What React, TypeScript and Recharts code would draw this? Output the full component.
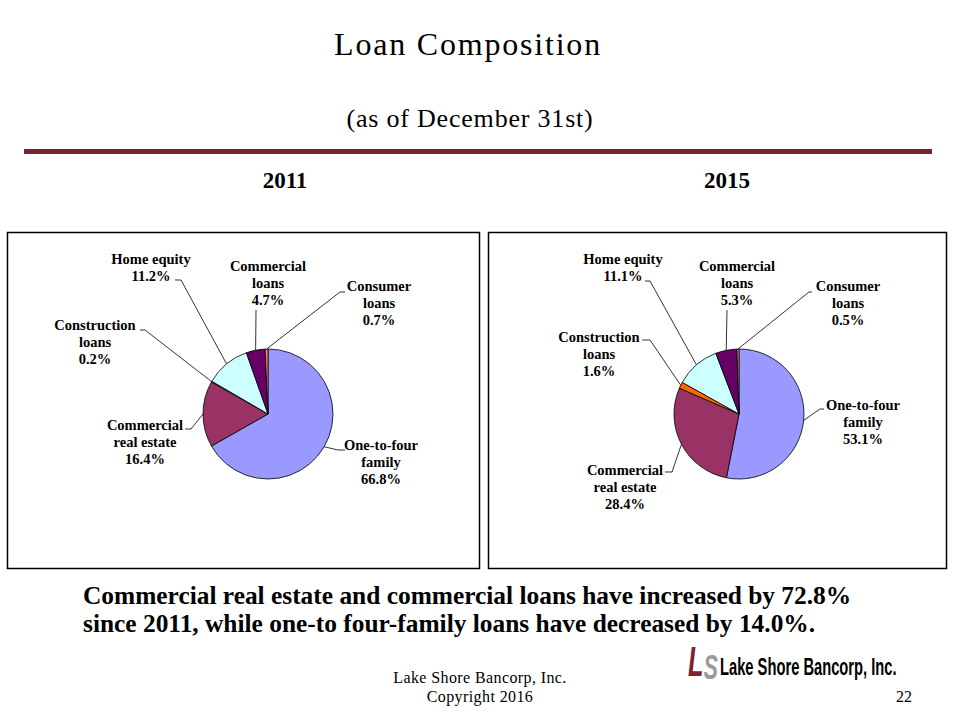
import { Cell, Pie, PieChart } from "recharts";

const CATEGORIES = [
  "One-to-four family",
  "Commercial real estate",
  "Construction loans",
  "Home equity",
  "Commercial loans",
  "Consumer loans",
];
const LABEL_LINES = [
  ["One-to-four", "family"],
  ["Commercial", "real estate"],
  ["Construction", "loans"],
  ["Home equity"],
  ["Commercial", "loans"],
  ["Consumer", "loans"],
];
const VALUES_2011 = [66.8, 16.4, 0.2, 11.2, 4.7, 0.7];
const VALUES_2015 = [53.1, 28.4, 1.6, 11.1, 5.3, 0.5];

const SLICE_COLORS = ["#9999FF", "#993366", "#FF6600", "#CCFFFF", "#660066", "#FF8080"];
const MAROON = "#7B2331";
const SERIF = "'Liberation Serif', 'Times New Roman', serif";

// label placement relative to the pie centre: text x, first baseline, leader stub start/end
type LabelPos = { tx: number; ty: number; sx: number; sy: number; ex: number };
const LABELS_2011: LabelPos[] = [
  { tx: 113, ty: 36, sx: 77, sy: 36, ex: 70 },
  { tx: -123, ty: 16, sx: -83, sy: 15, ex: -77 },
  { tx: -173, ty: -84, sx: -128, sy: -84, ex: -123 },
  { tx: -117, ty: -150, sx: -93, sy: -134, ex: -87 },
  { tx: 0, ty: -143, sx: -12, sy: -104, ex: -12 },
  { tx: 111, ty: -123, sx: 77, sy: -122, ex: 72 },
];
const LABELS_2015: LabelPos[] = [
  { tx: 124, ty: -4, sx: 85, sy: -5, ex: 81 },
  { tx: -114, ty: 61, sx: -74, sy: 58, ex: -67 },
  { tx: -140, ty: -72, sx: -97, sy: -74, ex: -89 },
  { tx: -116, ty: -150, sx: -94, sy: -133, ex: -89 },
  { tx: -2, ty: -143, sx: -12, sy: -104, ex: -12 },
  { tx: 109, ty: -123, sx: 73, sy: -122, ex: 70 },
];

const RAD = Math.PI / 180;

function makeLabel(positions: LabelPos[]) {
  return (props: any) => {
    const { cx, cy, midAngle, outerRadius, index, value } = props;
    const p = positions[index];
    const px = cx + outerRadius * Math.cos(-midAngle * RAD);
    const py = cy + outerRadius * Math.sin(-midAngle * RAD);
    const lines = [...LABEL_LINES[index], `${Number(value).toFixed(1)}%`];
    return (
      <g key={`lbl-${index}`}>
        <polyline
          points={`${cx + p.sx},${cy + p.sy} ${cx + p.ex},${cy + p.sy} ${px},${py}`}
          fill="none"
          stroke="#000"
          strokeWidth={0.8}
        />
        <text
          x={cx + p.tx}
          y={cy + p.ty}
          textAnchor="middle"
          fontFamily={SERIF}
          fontWeight="bold"
          fontSize={14.5}
          fill="#000"
        >
          {lines.map((l, i) => (
            <tspan key={i} x={cx + p.tx} dy={i === 0 ? 0 : 17}>
              {l}
            </tspan>
          ))}
        </text>
      </g>
    );
  };
}

function LoanPie({
  values,
  labels,
  width,
  height,
  cx,
}: {
  values: number[];
  labels: LabelPos[];
  width: number;
  height: number;
  cx: number;
}) {
  const data = CATEGORIES.map((name, i) => ({ name, value: values[i] }));
  return (
    <PieChart width={width} height={height} margin={{ top: 0, right: 0, bottom: 0, left: 0 }}>
      <Pie
        data={data}
        dataKey="value"
        nameKey="name"
        cx={cx}
        cy={182}
        outerRadius={65}
        startAngle={90}
        endAngle={-270}
        stroke="#000"
        strokeWidth={0.8}
        label={makeLabel(labels)}
        labelLine={false}
        isAnimationActive={false}
      >
        {data.map((d, i) => (
          <Cell key={d.name} fill={SLICE_COLORS[i]} />
        ))}
      </Pie>
    </PieChart>
  );
}

export default function App() {
  return (
    <div style={{ position: "absolute", left: 0, top: 0, width: 960, height: 720, background: "#fff" }}>
      <svg width={960} height={720} style={{ position: "absolute", left: 0, top: 0 }}>
        <text x={468} y={55} textAnchor="middle" fontFamily={SERIF} fontSize={32} letterSpacing={1.8} fill="#000">
          Loan Composition
        </text>
        <text x={470} y={127} textAnchor="middle" fontFamily={SERIF} fontSize={26} letterSpacing={0.8} fill="#000">
          (as of December 31st)
        </text>
        <rect x={24} y={149} width={908} height={5} fill={MAROON} />
        <text x={285} y={188} textAnchor="middle" fontFamily={SERIF} fontWeight="bold" fontSize={23}>
          2011
        </text>
        <text x={727} y={188} textAnchor="middle" fontFamily={SERIF} fontWeight="bold" fontSize={23}>
          2015
        </text>
        <rect x={7.5} y={232.5} width={472} height={336} fill="none" stroke="#000" strokeWidth={1.5} />
        <rect x={488.5} y={232.5} width={458} height={336} fill="none" stroke="#000" strokeWidth={1.5} />
        <text x={83} y={604} fontFamily={SERIF} fontWeight="bold" fontSize={25.4} fill="#000">
          Commercial real estate and commercial loans have increased by 72.8%
        </text>
        <text x={83} y={632} fontFamily={SERIF} fontWeight="bold" fontSize={25.4} fill="#000">
          since 2011, while one-to four-family loans have decreased by 14.0%.
        </text>
        <text x={480} y={683} textAnchor="middle" fontFamily={SERIF} fontSize={16} letterSpacing={0.4} fill="#000">
          Lake Shore Bancorp, Inc.
        </text>
        <text x={480} y={702} textAnchor="middle" fontFamily={SERIF} fontSize={16} letterSpacing={0.4} fill="#000">
          Copyright 2016
        </text>
        <text x={912} y={702} textAnchor="end" fontFamily={SERIF} fontSize={16} fill="#000">
          22
        </text>
        <text
          transform="translate(688,676) scale(0.6,1)"
          fontFamily="'Liberation Sans', Arial, sans-serif"
          fontWeight="bold"
          fontStyle="italic"
          fontSize={42}
        >
          <tspan fill={MAROON}>L</tspan>
          <tspan fill="#9A9A9A" dy={3} fontSize={36}>S</tspan>
        </text>
        <text
          transform="translate(720,675) scale(0.64,1)"
          fontFamily="'Liberation Sans', Arial, sans-serif"
          fontWeight="bold"
          fontSize={23}
          fill="#000"
        >
          Lake Shore Bancorp, Inc.
        </text>
      </svg>
      <div style={{ position: "absolute", left: 7, top: 232 }}>
        <LoanPie values={VALUES_2011} labels={LABELS_2011} width={473} height={337} cx={261} />
      </div>
      <div style={{ position: "absolute", left: 488, top: 232 }}>
        <LoanPie values={VALUES_2015} labels={LABELS_2015} width={459} height={337} cx={251} />
      </div>
    </div>
  );
}
